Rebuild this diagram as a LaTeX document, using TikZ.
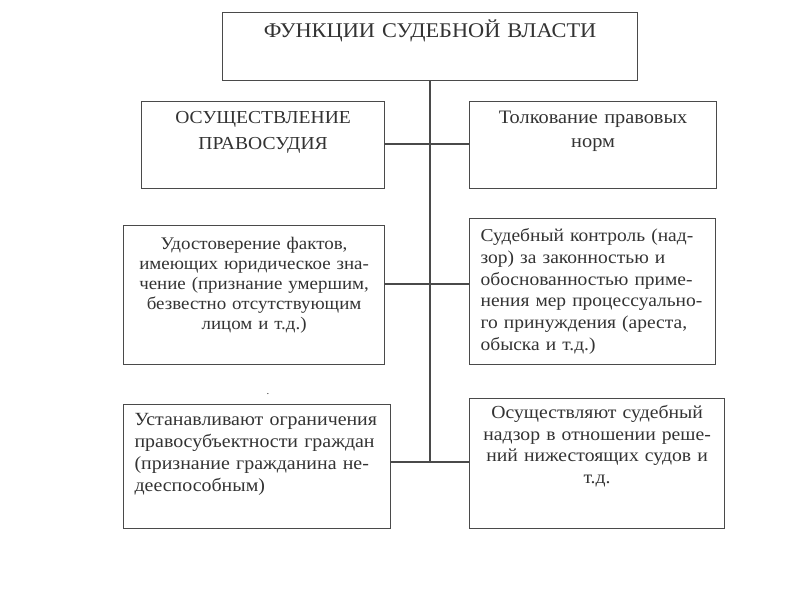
\documentclass[tikz,border=0pt]{standalone}
\usepackage{fontspec}
\setmainfont{Liberation Serif}[FakeStretch=1.07]
\usepackage{tikz}
\usetikzlibrary{positioning}
\definecolor{ink}{HTML}{333333}
\definecolor{frame}{HTML}{4A4A4A}
\tikzstyle{block} = [rectangle, draw=frame, line width=1.2pt, anchor=north west, inner xsep=11pt, inner ysep=0pt, text=ink]
\tikzstyle{line} = [draw=frame, line width=1.2pt]

\begin{document}
\begin{tikzpicture}[x=1pt, y=-1pt]
				\useasboundingbox [fill=white] (0,0) rectangle (800,600);
				% head
				\node (title) [block, text width=393pt, text height=25pt, text depth=43pt, align=center, font=\fontsize{20.9}{24}\selectfont] at (222,12) {ФУНКЦИИ СУДЕБНОЙ ВЛАСТИ};
				% first row
				\node (justice) [block, text width=221pt, text height=22pt, text depth=65pt, align=center, font=\fontsize{18.3}{26}\selectfont] at (141,101) {ОСУЩЕСТВЛЕНИЕ\\ПРАВОСУДИЯ};
				\node (interp) [block, text width=225pt, text height=22pt, text depth=65pt, align=center, font=\fontsize{19}{24}\selectfont] at (469,101) {Толкование правовых\\норм};
				% second row
				\node (facts) [block, text width=239pt, text height=24pt, text depth=115pt, align=center, font=\fontsize{17.7}{20}\selectfont] at (123,225) {Удостоверение фактов,\\имеющих юридическое зна-\\чение (признание умершим,\\безвестно отсутствующим\\лицом и т.д.)};
				\node (control) [block, text width=224pt, text height=23pt, text depth=123pt, align=left, font=\fontsize{18.2}{21.7}\selectfont] at (469,218) {Судебный контроль (над-\\зор) за законностью и\\обоснованностью приме-\\нения~мер~процессуально-\\го принуждения (ареста,\\обыска и т.д.)};
				% third row
				\node (limits) [block, text width=245pt, text height=21pt, text depth=103pt, align=left, font=\fontsize{18.6}{22}\selectfont] at (123,404) {Устанавливают ограничения\\правосубъектности граждан\\(признание гражданина не-\\дееспособным)};
				\node (review) [block, text width=233pt, text height=20pt, text depth=110pt, align=center, font=\fontsize{18.4}{21.5}\selectfont] at (469,398) {Осуществляют судебный\\надзор в отношении реше-\\ний нижестоящих судов и\\т.д.};
				\node (dot) [text=ink, font=\fontsize{10}{10}\selectfont, inner sep=0pt] at (268,394) {.};
				% connectors
				\coordinate (j1) at (430,144);
				\coordinate (j2) at (430,284);
				\coordinate (j3) at (430,462);
				\draw [line] (j3 |- title.south) -- (j3);
				\draw [line] (justice.east |- j1) -- (interp.west |- j1);
				\draw [line] (facts.east |- j2) -- (control.west |- j2);
				\draw [line] (limits.east |- j3) -- (review.west |- j3);
			\end{tikzpicture}
\end{document}
